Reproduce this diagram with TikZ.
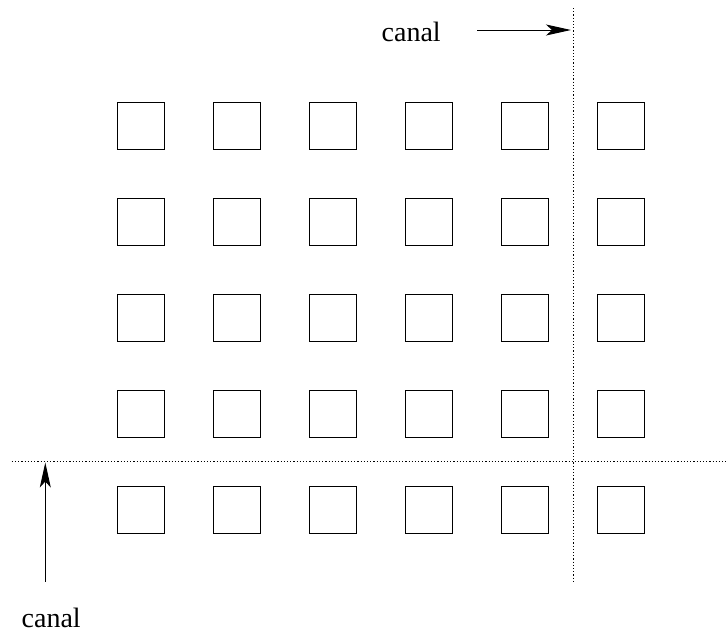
\documentclass[tikz,border=0pt]{standalone}
\usepackage{fontspec}
\setmainfont{Liberation Serif}
\usetikzlibrary{arrows.meta}
\begin{document}
\begin{tikzpicture}[x=1pt,y=-1pt,
  cell/.style={draw,line width=1.1pt,minimum size=47pt,inner sep=0pt,outer sep=0pt},
  channel/.style={line width=0.9pt,dash pattern=on 1.2pt off 2pt},
  pointer/.style={line width=1pt,-{Stealth[length=25pt,width=11pt,inset=6pt]}},
  lbl/.style={font=\fontsize{28}{33}\selectfont,inner sep=0pt}]
\useasboundingbox (0,0) rectangle (726,635);
% grid of cells
\foreach \i in {0,...,5}{
  \foreach \j in {0,...,4}{
    \node[cell] (c\i\j) at (141.3+96*\i,125.7+96*\j) {};
  }
}
% channel lines
\coordinate (vtop) at (573.3,8);
\coordinate (vbot) at (573.3,581);
\coordinate (hleft) at (11.7,461);
\coordinate (hright) at (726,461);
\draw[channel] (vtop) -- (vbot);
\draw[channel] (hleft) -- (hright);
% labels and pointers
\node[lbl,anchor=base west] (ltop) at (381.5,41.5) {canal};
\coordinate (atop0) at (477.3,30);
\coordinate (atop1) at (571,30);
\draw[pointer] (atop0) -- (atop1);
\node[lbl,anchor=base west] (lbot) at (21.5,627.5) {canal};
\coordinate (abot0) at (45.3,581.7);
\coordinate (abot1) at (45.3,462.5);
\draw[pointer] (abot0) -- (abot1);
\end{tikzpicture}
\end{document}
